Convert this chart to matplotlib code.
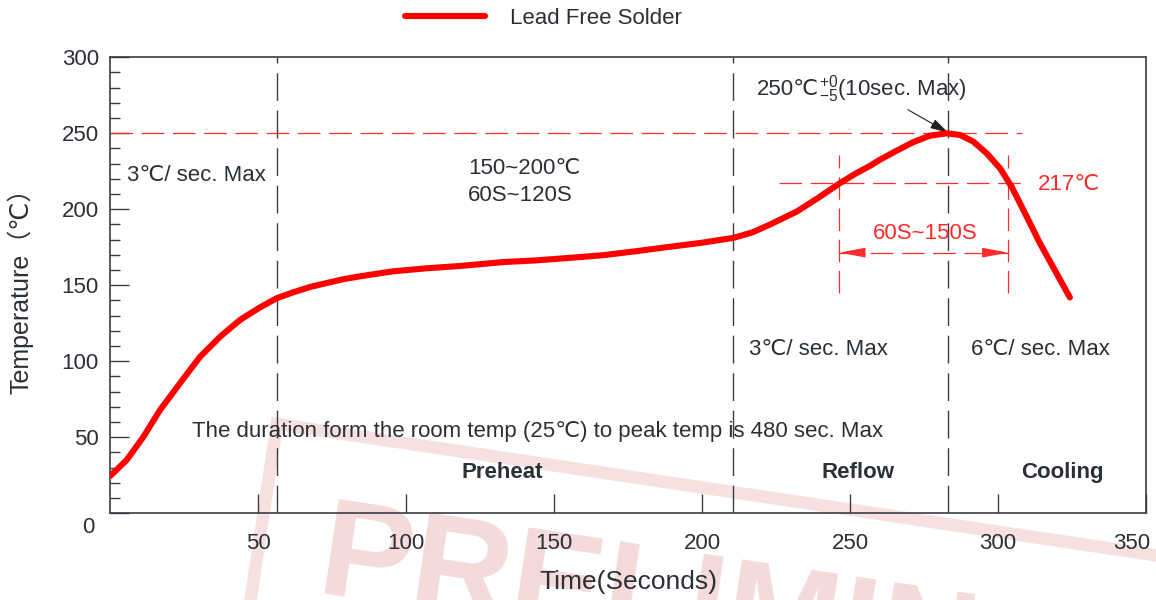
import matplotlib
matplotlib.use('Agg')
import matplotlib.pyplot as plt
from matplotlib.ticker import MultipleLocator
from matplotlib.transforms import ScaledTranslation

plt.rcParams['font.family'] = ['Liberation Sans', 'DejaVu Sans', 'Noto Sans CJK SC']
plt.rcParams['mathtext.fontset'] = 'custom'
plt.rcParams['mathtext.rm'] = 'Liberation Sans'
plt.rcParams['mathtext.it'] = 'Liberation Sans'

# Reflow profile (seconds, degC)
time_s = [0, 5.6, 11.3, 16.9, 23.6, 30.4, 37.2, 43.9, 50.7, 56.3, 61.9, 67.6, 73.2,
          78.8, 84.5, 90.1, 95.7, 107, 118.2, 133, 144, 155, 166.6, 178, 189, 200,
          210.6, 217, 223, 232, 238.7, 246.6, 252, 256.8, 260.1, 265.8, 271.4, 277,
          282.7, 287.2, 291.7, 296.2, 300.7, 304.6, 308.6, 314.2, 319.8, 324.3]
temp_c = [24.5, 35, 50.4, 68, 85.5, 103, 116.2, 127.2, 135.5, 141.5, 145.4, 148.9, 151.5,
          154, 155.9, 157.6, 159.2, 161.2, 162.7, 165.3, 166.4, 168, 169.8, 172.5, 175.3, 178,
          181.2, 184.8, 190, 198.5, 206.8, 217.2, 223.6, 228.6, 232.6, 238.6, 244.2, 248.4,
          250, 248.9, 244.5, 236.8, 227, 214.9, 199.5, 177.6, 157.9, 142]

zone_edges = [56.3, 210.6, 283.2]      # black dashed verticals
tal_edges = [246.4, 303.5]             # time above liquidus
peak_temp = 250
liquidus_temp = 217

x_ticks = [50, 100, 150, 200, 250, 300, 350]
y_ticks = [0, 50, 100, 150, 200, 250, 300]

txt = '#2b2f36'
red = '#ff2a2a'

fig = plt.figure(figsize=(11.56, 6.0), dpi=100)
ax = fig.add_axes([0.0952, 0.1445, 0.8961, 0.76])
ax.patch.set_alpha(0)

# faded stamp in the background
fig.text(0.285, 0.175, 'PRELIMINARY', fontsize=100, fontweight='bold', color='#f5dada',
         rotation=-8.5, rotation_mode='anchor', ha='left', va='top', zorder=-1,
         bbox=dict(boxstyle='square,pad=0.45', fc='none', ec='#f6e0e0', lw=9))

ax.plot(time_s, temp_c, color='#ff0000', lw=4.4, solid_capstyle='round',
        solid_joinstyle='round', label='Lead Free Solder', zorder=5)

for t in zone_edges:
    ax.axvline(t, color='#3a3d44', lw=1, dashes=(20, 7), zorder=2)

ax.plot([0, 308], [peak_temp, peak_temp], color=red, lw=0.9, dashes=(18, 7), zorder=2)
ax.plot([226, 310], [liquidus_temp, liquidus_temp], color=red, lw=0.9, dashes=(18, 7), zorder=2)
for t in tal_edges:
    ax.plot([t, t], [145, 236], color=red, lw=0.9, dashes=(18, 7), zorder=2)

# 60S~150S dimension arrow
ax.plot(tal_edges, [171.5, 171.5], color=red, lw=0.9, dashes=(18, 7), zorder=2)
ax.annotate('', xy=(tal_edges[0], 171.5), xytext=(tal_edges[0] + 8, 171.5),
            arrowprops=dict(arrowstyle='-|>,head_length=1.6,head_width=0.3',
                            color=red, lw=0.9, shrinkA=0, shrinkB=0))
ax.annotate('', xy=(tal_edges[1], 171.5), xytext=(tal_edges[1] - 8, 171.5),
            arrowprops=dict(arrowstyle='-|>,head_length=1.6,head_width=0.3',
                            color=red, lw=0.9, shrinkA=0, shrinkB=0))
ax.text(275.3, 184.4, '60S~150S', color=red, fontsize=16, ha='center', va='center')
ax.text(313.5, 216, '217℃', color=red, fontsize=16, ha='left', va='center')

# peak annotation
peak_txt = ax.text(218.6, 279, '250℃', fontsize=16, color=txt, ha='left', va='center')
ax.annotate('$^{+0}_{-5}$(10sec. Max)', xy=(1, 0.5), xycoords=peak_txt,
            fontsize=16, color=txt, ha='left', va='center')
ax.annotate('', xy=(283.2, 250.4), xytext=(269.6, 265.5),
            arrowprops=dict(arrowstyle='-|>,head_length=1.1,head_width=0.3',
                            color='#222', lw=0.8, shrinkA=0, shrinkB=0))

ax.text(5.7, 222, '3℃/ sec. Max', fontsize=16, color=txt, va='center')
ax.text(121, 227, '150~200℃', fontsize=16, color=txt, va='center')
ax.text(121, 209, '60S~120S', fontsize=16, color=txt, va='center')
ax.text(216, 107.5, '3℃/ sec. Max', fontsize=16, color=txt, va='center')
ax.text(291, 107.5, '6℃/ sec. Max', fontsize=16, color=txt, va='center')
ax.text(27.7, 53.5, 'The duration form the room temp (25℃) to peak temp is 480 sec. Max',
        fontsize=16, color=txt, va='center')
ax.text(132.5, 27, 'Preheat', fontsize=16, fontweight='bold', color=txt, ha='center', va='center')
ax.text(252.7, 27, 'Reflow', fontsize=16, fontweight='bold', color=txt, ha='center', va='center')
ax.text(321.6, 27, 'Cooling', fontsize=16, fontweight='bold', color=txt, ha='center', va='center')

ax.set_xlim(0, 350)
ax.set_ylim(0, 300)
ax.set_xticks(x_ticks)
ax.set_yticks(y_ticks)
ax.yaxis.set_minor_locator(MultipleLocator(10))
ax.tick_params(which='major', direction='in', length=14, width=1, color='#3a3d44',
               labelsize=16, labelcolor=txt)
ax.tick_params(axis='x', which='major', pad=14)
ax.tick_params(axis='y', which='major', pad=8)
ax.tick_params(which='minor', direction='in', length=7, width=1, color='#3a3d44')
for s in ax.spines.values():
    s.set_color('#3a3d44')
    s.set_linewidth(1.2)

# the "0" label sits below its tick in the original, "350" is pulled in from the edge
zero_lab = ax.get_yticklabels()[0]
zero_lab.set_transform(zero_lab.get_transform() + ScaledTranslation(-4 / 100, -12 / 100, fig.dpi_scale_trans))
last_lab = ax.get_xticklabels()[-1]
last_lab.set_transform(last_lab.get_transform() + ScaledTranslation(-14 / 100, 0, fig.dpi_scale_trans))

ax.set_xlabel('Time(Seconds)', fontsize=19, color=txt, labelpad=12)
ax.set_ylabel('Temperature（℃）', fontsize=18, color=txt, labelpad=20)

fig.legend(loc='center', bbox_to_anchor=(0.47, 0.97), frameon=False, fontsize=16,
           handlelength=3.6, handletextpad=1.1, labelcolor=txt)

fig.savefig('out.png', dpi=100)
